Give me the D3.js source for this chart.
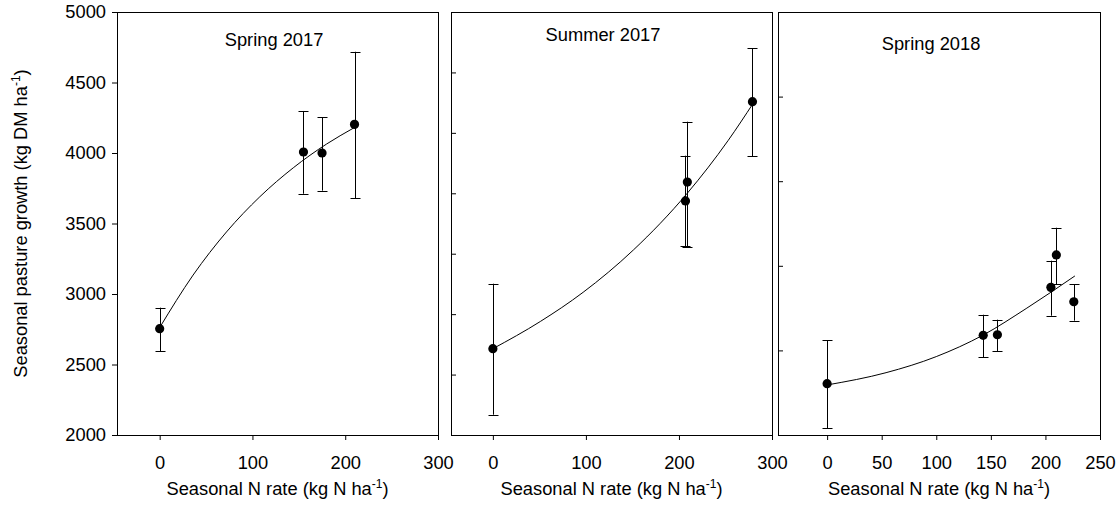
<!DOCTYPE html>
<html>
<head>
<meta charset="utf-8">
<script src="https://cdn.jsdelivr.net/npm/d3@7"></script>
<style>
  body { margin: 0; background: #fff; }
  svg text { font-family: "Liberation Sans", Arial, sans-serif; fill: #000; }
</style>
</head>
<body>
<div id="chart"></div>
<script>
// ---- data ----
var seasonNames = ["Spring 2017", "Summer 2017", "Spring 2018"];

// Spring 2017
var spring17N = [0, 155, 175, 210];
var spring17Growth = [2754, 4007, 4000, 4203];
var spring17Low = [2594, 3711, 3733, 3679];
var spring17High = [2903, 4298, 4255, 4718];
var spring17FitN = [0, 36, 72, 108, 144, 180, 209];
var spring17FitGrowth = [2762, 3134, 3440, 3690, 3895, 4064, 4177];

// Summer 2017
var summer17N = [0, 207, 209, 279];
var summer17Growth = [2612, 3660, 3794, 4364];
var summer17Low = [2144, 3340, 3330, 3976];
var summer17High = [3073, 3981, 4222, 4742];
var summer17FitN = [0, 51, 97, 151, 209, 253, 280];
var summer17FitGrowth = [2612, 2805, 3012, 3312, 3715, 4090, 4355];

// Spring 2018
var spring18N = [0, 143, 156, 205, 210, 226];
var spring18Growth = [2364, 2707, 2711, 3047, 3277, 2945];
var spring18Low = [2047, 2551, 2596, 2846, 3069, 2811];
var spring18High = [2672, 2853, 2818, 3236, 3470, 3069];
var spring18FitN = [0, 54, 100, 143, 183, 227];
var spring18FitGrowth = [2355, 2442, 2556, 2709, 2900, 3128];

// axis ticks
var yTickLabels = [2000, 2500, 3000, 3500, 4000, 4500, 5000];
var summerTicks = [2000, 2500, 3000, 3500, 4000, 4500, 5000, 5500];
var spring18Ticks = [2000, 2500, 3000, 3500, 4000, 4500];
var xTicks300 = [0, 100, 200, 300];
var xTicks250 = [0, 50, 100, 150, 200, 250];

// ---- layout ----
var width = 1120, height = 508;
var plotTop = 12, plotBottom = 435;
var fontSize = 18.3;

var panels = [
  { name: seasonNames[0], left: 117, right: 438, xDomain: [-46, 300], xTicks: xTicks300,
    yTicks: yTickLabels, titleX: 274, titleY: 46,
    n: spring17N, g: spring17Growth, lo: spring17Low, hi: spring17High,
    fitN: spring17FitN, fitG: spring17FitGrowth },
  { name: seasonNames[1], left: 451, right: 772, xDomain: [-45, 300], xTicks: xTicks300,
    yTicks: summerTicks, titleX: 603, titleY: 41,
    n: summer17N, g: summer17Growth, lo: summer17Low, hi: summer17High,
    fitN: summer17FitN, fitG: summer17FitGrowth },
  { name: seasonNames[2], left: 778, right: 1100, xDomain: [-45, 250], xTicks: xTicks250,
    yTicks: spring18Ticks, titleX: 931, titleY: 50,
    n: spring18N, g: spring18Growth, lo: spring18Low, hi: spring18High,
    fitN: spring18FitN, fitG: spring18FitGrowth }
];

var svg = d3.select("#chart")
  .append("svg")
  .attr("width", width)
  .attr("height", height);

// common scale used for the plotted values
var y = d3.scaleLinear().domain([2000, 5000]).range([plotBottom, plotTop]);

panels.forEach(function (p, i) {
  var x = d3.scaleLinear().domain(p.xDomain).range([p.left, p.right]);

  // y axis: labelled on first panel, unlabelled inner ticks on the others
  if (i == 0) {
    var yAxis = svg.append("g")
      .attr("transform", "translate(" + p.left + ",0)")
      .call(d3.axisLeft(y).tickValues(p.yTicks).tickFormat(d3.format("d"))
        .tickSize(5).tickPadding(6).tickSizeOuter(0));
    yAxis.select(".domain").remove();
    yAxis.selectAll("text").style("font-size", fontSize + "px");
  } else {
    var yt = d3.scaleLinear().domain(d3.extent(p.yTicks)).range([plotBottom, plotTop]);
    var yAxis2 = svg.append("g")
      .attr("transform", "translate(" + p.left + ",0)")
      .call(d3.axisRight(yt).tickValues(p.yTicks).tickSize(5).tickFormat("").tickSizeOuter(0));
    yAxis2.select(".domain").remove();
  }

  // x axis
  var xAxis = svg.append("g")
    .attr("transform", "translate(0," + plotBottom + ")")
    .call(d3.axisBottom(x).tickValues(p.xTicks).tickSize(5).tickPadding(16).tickSizeOuter(0));
  xAxis.select(".domain").remove();
  xAxis.selectAll("text").style("font-size", fontSize + "px");

  // frame
  svg.append("rect")
    .attr("x", p.left + 0.5)
    .attr("y", plotTop + 0.5)
    .attr("width", p.right - p.left)
    .attr("height", plotBottom - plotTop)
    .attr("fill", "none")
    .attr("stroke", "#000")
    .attr("stroke-width", 1);

  // x title
  var xt = svg.append("text")
    .attr("x", (p.left + p.right) / 2)
    .attr("y", 495)
    .attr("text-anchor", "middle")
    .style("font-size", fontSize + "px");
  xt.append("tspan").text("Seasonal N rate (kg N ha");
  xt.append("tspan").attr("dy", -7).style("font-size", "12px").text("-1");
  xt.append("tspan").attr("dy", 7).text(")");

  // panel title
  svg.append("text")
    .attr("x", p.titleX)
    .attr("y", p.titleY)
    .attr("text-anchor", "middle")
    .style("font-size", fontSize + "px")
    .text(p.name);

  // fitted curve
  var fit = p.fitN.map(function (d, j) { return { n: d, g: p.fitG[j] }; });
  svg.append("path")
    .datum(fit)
    .attr("fill", "none")
    .attr("stroke", "#000")
    .attr("stroke-width", 1)
    .attr("d", d3.line()
      .curve(d3.curveMonotoneX)
      .x(function (d) { return x(d.n); })
      .y(function (d) { return y(d.g); }));

  // error bars and points
  var pts = p.n.map(function (d, j) {
    return { n: d, g: p.g[j], lo: p.lo[j], hi: p.hi[j] };
  });
  var eb = svg.append("g").attr("stroke", "#000").attr("stroke-width", 1);
  pts.forEach(function (d) {
    var cx = Math.round(x(d.n)) + 0.5;
    eb.append("line").attr("x1", cx).attr("x2", cx).attr("y1", y(d.hi)).attr("y2", y(d.lo));
    eb.append("line").attr("x1", cx - 5).attr("x2", cx + 5).attr("y1", Math.round(y(d.hi)) + 0.5).attr("y2", Math.round(y(d.hi)) + 0.5);
    eb.append("line").attr("x1", cx - 5).attr("x2", cx + 5).attr("y1", Math.round(y(d.lo)) + 0.5).attr("y2", Math.round(y(d.lo)) + 0.5);
  });

  svg.append("g")
    .selectAll("circle")
    .data(pts)
    .enter()
    .append("circle")
    .attr("cx", function (d) { return x(d.n); })
    .attr("cy", function (d) { return y(d.g); })
    .attr("r", 4.6)
    .attr("fill", "#000");
});

// y title
var ytitle = svg.append("text")
  .attr("transform", "translate(27," + ((plotTop + plotBottom) / 2) + ") rotate(-90)")
  .attr("text-anchor", "middle")
  .style("font-size", fontSize + "px");
ytitle.append("tspan").text("Seasonal pasture growth (kg DM ha");
ytitle.append("tspan").attr("dy", -7).style("font-size", "12px").text("-1");
ytitle.append("tspan").attr("dy", 7).text(")");
</script>
</body>
</html>
